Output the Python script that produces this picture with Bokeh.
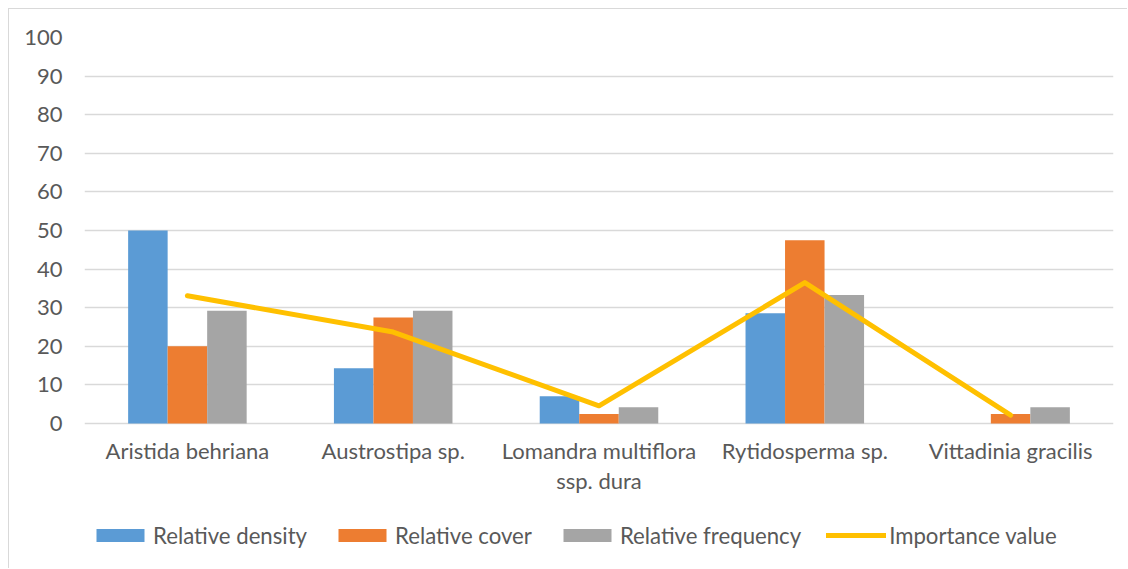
from bokeh.plotting import figure
from bokeh.models import ColumnDataSource, FactorRange, Legend, LegendItem, FixedTicker
from bokeh.core.properties import value
from bokeh.transform import dodge
from bokeh.embed import file_html
from bokeh.resources import INLINE

species = ["Aristida behriana", "Austrostipa sp.", "Lomandra multiflora ssp. dura",
           "Rytidosperma sp.", "Vittadinia gracilis"]
# category labels as they wrap under the bars
label_line1 = ["Aristida behriana", "Austrostipa sp.", "Lomandra multiflora",
               "Rytidosperma sp.", "Vittadinia gracilis"]
label_line2 = ["", "", "ssp. dura", "", ""]
rel_density = [50.0, 14.3, 7.1, 28.6, 0.0]
rel_cover = [20.0, 27.5, 2.5, 47.5, 2.5]
rel_frequency = [29.2, 29.2, 4.2, 33.3, 4.2]
importance = [33.1, 23.7, 4.6, 36.5, 2.2]
y_ticks = [0, 10, 20, 30, 40, 50, 60, 70, 80, 90, 100]

src = ColumnDataSource(dict(species=species, density=rel_density, cover=rel_cover,
                            frequency=rel_frequency, importance=importance,
                            line1=label_line1, line2=label_line2))

FONT = "Lato"
TXT = "#595959"
GRID = "#D9D9D9"
FS = "22px"

# the frame runs down to the bottom edge so the category labels and the
# legend can sit underneath the zero line without being clipped
Y_BOTTOM = -37.8
p = figure(x_range=FactorRange(*species), y_range=(Y_BOTTOM, 100),
           width=1119, height=560, margin=(8, 0, 0, 8),
           output_backend="svg", toolbar_location=None,
           min_border_left=75, min_border_right=15, min_border_top=28, min_border_bottom=0,
           styles={"border-left": "1px solid #D9D9D9", "border-top": "1px solid #D9D9D9"})
p.outline_line_color = None
p.background_fill_color = "white"
p.border_fill_color = "white"

bw = 0.192
r_den = p.vbar(x=dodge("species", -bw, range=p.x_range), top="density", width=bw,
               source=src, fill_color="#5B9BD5", line_color=None)
r_cov = p.vbar(x=dodge("species", 0, range=p.x_range), top="cover", width=bw,
               source=src, fill_color="#ED7D31", line_color=None)
r_frq = p.vbar(x=dodge("species", bw, range=p.x_range), top="frequency", width=bw,
               source=src, fill_color="#A5A5A5", line_color=None)
r_imp = p.line(x="species", y="importance", source=src, line_color="#FFC000",
               line_width=5, line_cap="round", line_join="round")

# category labels
p.text(x="species", y=-7.05, text="line1", source=src, text_align="center",
       text_baseline="alphabetic", text_font=value(FONT), text_font_size=FS,
       text_color=TXT)
p.text(x="species", y=-14.7, text="line2", source=src, text_align="center",
       text_baseline="alphabetic", text_font=value(FONT), text_font_size=FS,
       text_color=TXT)

# axes
p.xaxis.visible = False
p.yaxis.ticker = FixedTicker(ticks=y_ticks)
p.yaxis.axis_line_color = None
p.yaxis.major_tick_line_color = None
p.yaxis.minor_tick_line_color = None
p.yaxis.major_tick_in = 0
p.yaxis.major_tick_out = 0
p.yaxis.major_label_standoff = 22
p.yaxis.major_label_text_font = FONT
p.yaxis.major_label_text_font_size = FS
p.yaxis.major_label_text_color = TXT

p.xgrid.grid_line_color = None
p.ygrid.grid_line_color = GRID
p.ygrid.grid_line_width = 1.4

legend = Legend(items=[
    LegendItem(label="Relative density", renderers=[r_den]),
    LegendItem(label="Relative cover", renderers=[r_cov]),
    LegendItem(label="Relative frequency", renderers=[r_frq]),
    LegendItem(label="Importance value", renderers=[r_imp]),
], orientation="horizontal", location=(6, 20.5))
legend.glyph_width = 60
legend.glyph_height = 16
legend.label_height = 20
legend.label_standoff = 3
legend.spacing = 25
legend.padding = 0
legend.margin = 0
legend.border_line_alpha = 0
legend.background_fill_alpha = 0
legend.label_text_font = FONT
legend.label_text_font_size = "22.2px"
legend.label_text_color = TXT
p.add_layout(legend, "center")

open("out.html", "w").write(file_html(p, INLINE))
